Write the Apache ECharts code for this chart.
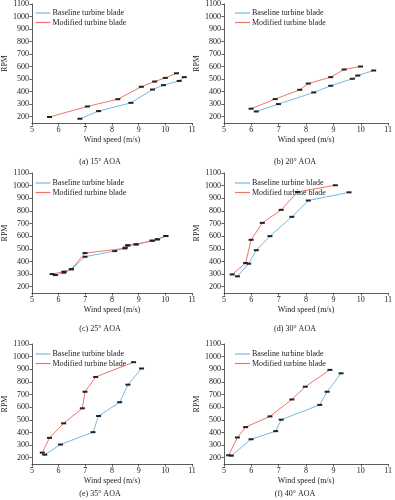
<!DOCTYPE html>
<html>
<head>
<meta charset="utf-8">
<script src="https://cdn.jsdelivr.net/npm/echarts@6/dist/echarts.min.js"></script>
<style>
html,body{margin:0;padding:0;background:#fff;}
#chart{width:395px;height:500px;}
</style>
</head>
<body>
<div id="chart"></div>
<script>
// ---- Data (wind speed m/s, RPM) ----
const seriesNames = ['Baseline turbine blade', 'Modified turbine blade'];
const captions = ['(a) 15° AOA', '(b) 20° AOA', '(c) 25° AOA', '(d) 30° AOA', '(e) 35° AOA', '(f) 40° AOA'];
const yTickValues = [200, 300, 400, 500, 600, 700, 800, 900, 1000, 1100];

const a_baseline = [[6.8,184],[7.5,245],[8.71,311],[9.52,417],[9.93,452],[10.52,486],[10.71,516]];
const a_modified = [[5.66,198],[7.08,282],[8.22,340],[9.1,439],[9.6,481],[10.0,510],[10.42,547]];

const b_baseline = [[6.18,242],[6.99,301],[8.28,394],[8.9,447],[9.69,503],[9.89,529],[10.47,569]];
const b_modified = [[5.99,264],[6.87,341],[7.77,415],[8.08,465],[8.9,516],[9.39,577],[9.99,601]];

const c_baseline = [[5.88,292],[6.2,311],[6.48,337],[6.99,437],[8.1,482],[8.5,509],[8.58,527],[8.92,535],[9.52,564],[9.71,575],[10.02,601]];
const c_modified = [[5.76,300],[6.2,319],[6.48,340],[6.99,466],[8.48,503],[8.6,527],[8.9,535],[9.5,564],[9.7,575],[10.02,601]];

const d_baseline = [[5.49,282],[5.9,382],[6.18,489],[6.68,600],[7.48,753],[8.08,882],[9.57,947]];
const d_modified = [[5.3,297],[5.79,387],[5.99,571],[6.4,705],[7.09,808],[7.69,950],[9.07,1003]];

const e_baseline = [[5.48,224],[6.07,304],[7.29,402],[7.5,530],[8.29,639],[8.6,778],[9.11,906]];
const e_modified = [[5.39,240],[5.66,357],[6.19,472],[6.89,591],[6.99,722],[7.39,839],[8.81,956]];

const f_baseline = [[5.27,216],[5.99,346],[6.89,410],[7.09,501],[8.5,618],[8.77,722],[9.28,868]];
const f_modified = [[5.17,219],[5.49,360],[5.79,442],[6.68,527],[7.48,661],[7.97,762],[8.87,895]];

const panels = [
  [a_baseline, a_modified], [b_baseline, b_modified],
  [c_baseline, c_modified], [d_baseline, d_modified],
  [e_baseline, e_modified], [f_baseline, f_modified]
];

// ---- Layout / style ----
const FONT = 'Liberation Serif';
const FS = 8;
const TXT = '#222';
const colors = ['#74b9e6', '#f07468'];
const colLeft = [24.5, 224];
const colWidth = 167.5;
const rowTop = [3, 173, 344];
const gridH = 120;
const captionY = [162, 329, 494];
const captionX = [100, 295];

const grids = [], xAxes = [], yAxes = [], series = [], legends = [], graphics = [];
panels.forEach((p, i) => {
  const col = i % 2, row = Math.floor(i / 2);
  grids.push({left: colLeft[col], top: rowTop[row], width: colWidth, height: gridH});
  xAxes.push({
    type: 'value', gridIndex: i, min: 5, max: 11, interval: 1,
    name: 'Wind speed (m/s)', nameLocation: 'middle', nameGap: 13,
    nameTextStyle: {fontFamily: FONT, fontSize: FS, color: TXT},
    axisLine: {show: true, onZero: false, lineStyle: {color: '#333', width: 0.8}},
    axisTick: {show: true, length: 2.5, lineStyle: {color: '#333', width: 0.8}},
    axisLabel: {fontFamily: FONT, fontSize: FS, color: TXT, margin: 3},
    splitLine: {show: false}
  });
  yAxes.push({
    type: 'value', gridIndex: i, min: 150, max: 1100,
    name: 'RPM', nameLocation: 'middle', nameGap: 15, nameRotate: 90,
    nameTextStyle: {fontFamily: FONT, fontSize: FS, color: TXT},
    axisLine: {show: true, onZero: false, lineStyle: {color: '#333', width: 0.8}},
    axisTick: {show: true, length: 2.5, customValues: yTickValues, lineStyle: {color: '#333', width: 0.8}},
    axisLabel: {fontFamily: FONT, fontSize: FS, color: TXT, margin: 3, customValues: yTickValues,
      formatter: v => String(v)},
    splitLine: {show: false}
  });
  p.forEach((d, k) => {
    series.push({
      name: seriesNames[k], type: 'line', xAxisIndex: i, yAxisIndex: i,
      data: d, symbol: 'rect', symbolSize: [5, 2], showSymbol: true,
      lineStyle: {color: colors[k], width: 1},
      itemStyle: {color: '#222'},
      z: 3 + k
    });
  });
  legends.push({
    left: colLeft[col] + 6, top: rowTop[row] + 1, orient: 'vertical',
    icon: 'rect', itemWidth: 15, itemHeight: 1.2, itemGap: 1.5,
    textStyle: {fontFamily: FONT, fontSize: FS, color: TXT, padding: [0,0,0,-3]},
    data: seriesNames.map((n, k) => ({name: n, itemStyle: {color: colors[k]}}))
  });
  graphics.push({
    type: 'text', x: captionX[col], y: captionY[row],
    style: {text: captions[i], font: FS + 'px ' + FONT, fill: TXT, textAlign: 'center', textVerticalAlign: 'middle'}
  });
});

const chart = echarts.init(document.getElementById('chart'), null, {renderer: 'canvas'});
chart.setOption({
  animation: false,
  backgroundColor: '#fff',
  grid: grids, xAxis: xAxes, yAxis: yAxes, series: series,
  legend: legends, graphic: graphics
});
</script>
</body>
</html>
